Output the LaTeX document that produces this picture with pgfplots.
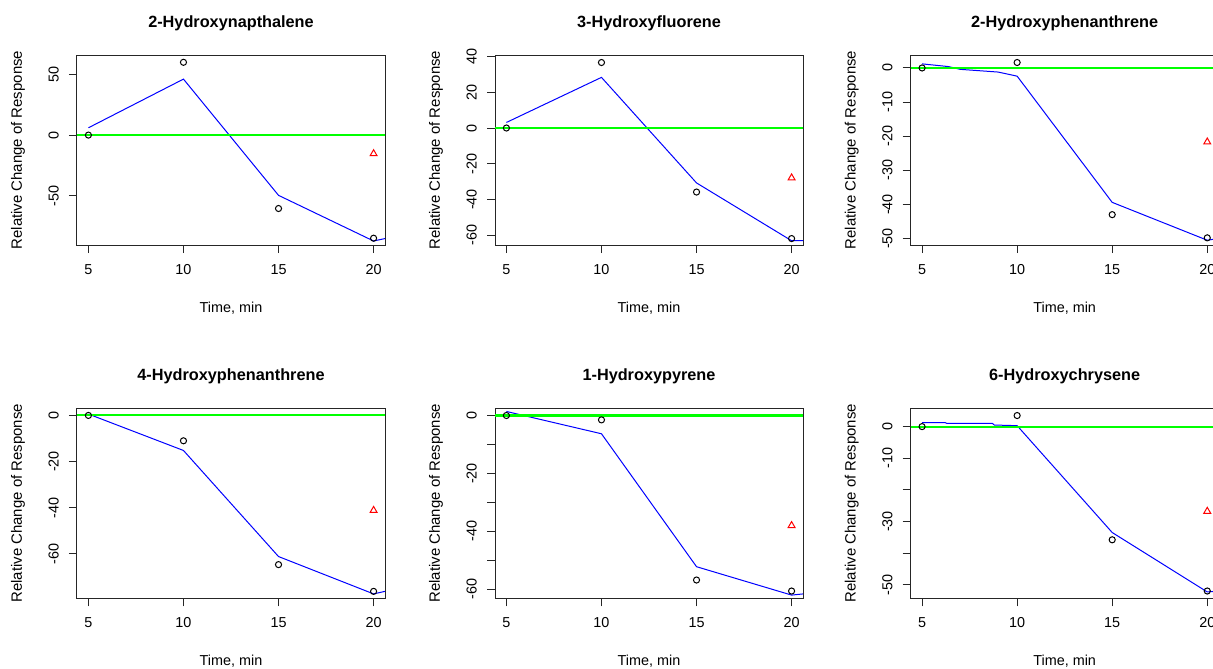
\documentclass[border=0pt]{standalone}
\usepackage{pgfplots}
\pgfplotsset{compat=1.18}
\usepackage{fontspec}
\setmainfont{Liberation Sans}
\definecolor{rblue}{RGB}{0,0,255}
\definecolor{rgreen}{RGB}{0,255,0}
\definecolor{rred}{RGB}{255,0,0}
\pgfplotsset{
  rpanel/.style={
    scale only axis, width=231pt, height=142.5pt,
    anchor=north west,
    xmin=4.4, xmax=20.6,
    axis line style={line width=0.75pt, black!85},
    every tick/.style={line width=0.75pt, black!85},
    tick align=outside, major tick length=6pt,
    xtick={5,10,15,20}, xticklabels={5,10,15,20},
    tick label style={font=\fontsize{10.8}{12}\selectfont},
    xtick pos=bottom, ytick pos=left,
    yticklabel style={rotate=90, anchor=south, inner sep=0pt, yshift=7.5pt},
    xticklabel style={anchor=north, inner sep=0pt, yshift=-8.25pt},
    title style={at={(axis description cs:0.5,1.126)}, anchor=center, font=\bfseries\fontsize{12.2}{14}\selectfont},
    xlabel style={at={(axis description cs:0.5,-0.3316)}, anchor=center, font=\fontsize{10.8}{12}\selectfont},
    ylabel style={at={(axis description cs:-0.1916,0.5)}, anchor=center, font=\fontsize{11.2}{12}\selectfont},
    xlabel={Time, min}, ylabel={Relative Change of Response},
  },
  fitline/.style={draw=rblue, line width=0.75pt, no markers},
  zeroline/.style={draw=rgreen, line width=1.6pt, no markers},
  pts/.style={only marks, mark=o, mark size=2.3pt, mark options={draw=black, line width=0.75pt}},
  tri/.style={only marks, mark=triangle, mark size=3pt, mark options={draw=rred, line width=0.75pt}},
}
\begin{document}
\begin{tikzpicture}
\useasboundingbox (0,0) rectangle (909.75pt,-501pt);
% Panel 1
\begin{axis}[rpanel, at={(57.75pt,-41.25pt)}, ymin=-90.3, ymax=65.8,
  ytick={-50,0,50}, yticklabels={-50,0,50}, title={2-Hydroxynapthalene}]
\addplot[fitline] coordinates {(5,6) (10,46) (15,-49.5) (20,-87) (20.6,-85)};
\addplot[zeroline] coordinates {(4.4,0) (20.6,0)};
\addplot[pts] coordinates {(5,0) (10,59.8) (15,-60.3) (20,-84.7)};
\addplot[tri] coordinates {(20,-15.3)};
\end{axis}
% Panel 2
\begin{axis}[rpanel, at={(371.25pt,-41.25pt)}, ymin=-65.4, ymax=40.8,
  ytick={-60,-40,-20,0,20,40}, yticklabels={-60,-40,-20,0,20,40}, title={3-Hydroxyfluorene}]
\addplot[fitline] coordinates {(5,3.1) (10,28.3) (15,-30.7) (20,-63) (20.6,-63)};
\addplot[zeroline] coordinates {(4.4,0) (20.6,0)};
\addplot[pts] coordinates {(5,0) (10,36.6) (15,-35.8) (20,-61.8)};
\addplot[tri] coordinates {(20,-27.9)};
\end{axis}
% Panel 3
\begin{axis}[rpanel, at={(683.0pt,-41.25pt)}, ymin=-51.9, ymax=3.8,
  ytick={-50,-40,-30,-20,-10,0}, yticklabels={-50,-40,-30,-20,-10,0}, title={2-Hydroxyphenanthrene}]
\addplot[fitline] coordinates {(5,1.2) (6.4,0.4) (7,-0.4) (9,-1.2) (10,-2.4) (15,-39.4) (20,-50.5) (20.6,-50)};
\addplot[zeroline] coordinates {(4.4,0) (20.6,0)};
\addplot[pts] coordinates {(5,0) (10,1.6) (15,-43) (20,-49.8)};
\addplot[tri] coordinates {(20,-21.7)};
\end{axis}
% Panel 4
\begin{axis}[rpanel, at={(57.75pt,-306.2pt)}, ymin=-79.3, ymax=3.1,
  ytick={-60,-40,-20,0}, yticklabels={-60,-40,-20,0}, title={4-Hydroxyphenanthrene}]
\addplot[fitline] coordinates {(5,0.6) (10,-15.2) (15,-61.2) (20,-77.4) (20.6,-76.3)};
\addplot[zeroline] coordinates {(4.4,0) (20.6,0)};
\addplot[pts] coordinates {(5,0) (10,-11) (15,-64.7) (20,-76.3)};
\addplot[tri] coordinates {(20,-41.2)};
\end{axis}
% Panel 5
\begin{axis}[rpanel, at={(371.25pt,-306.2pt)}, ymin=-63.1, ymax=2.5,
  ytick={-60,-50,-40,-30,-20,-10,0}, yticklabels={-60,,-40,,-20,,0}, title={1-Hydroxypyrene}]
\addplot[fitline] coordinates {(5,1.4) (10,-6.3) (15,-52.2) (20,-62) (20.6,-61.6)};
\addplot[zeroline] coordinates {(4.4,0) (20.6,0)};
\addplot[pts] coordinates {(5,0) (10,-1.5) (15,-56.8) (20,-60.6)};
\addplot[tri] coordinates {(20,-38)};
\end{axis}
% Panel 6
\begin{axis}[rpanel, at={(683.0pt,-306.2pt)}, ymin=-54.3, ymax=5.8,
  ytick={-50,-40,-30,-20,-10,0}, yticklabels={-50,,-30,,-10,0}, title={6-Hydroxychrysene}]
\addplot[fitline] coordinates {(5,1.3) (6.2,1.3) (6.3,1.0) (8.7,1.0) (8.8,0.5) (10,0.3) (15,-33.5) (20,-52.3) (20.6,-52)};
\addplot[zeroline] coordinates {(4.4,0) (20.6,0)};
\addplot[pts] coordinates {(5,0) (10,3.5) (15,-35.8) (20,-52)};
\addplot[tri] coordinates {(20,-26.8)};
\end{axis}
\end{tikzpicture}
\end{document}
